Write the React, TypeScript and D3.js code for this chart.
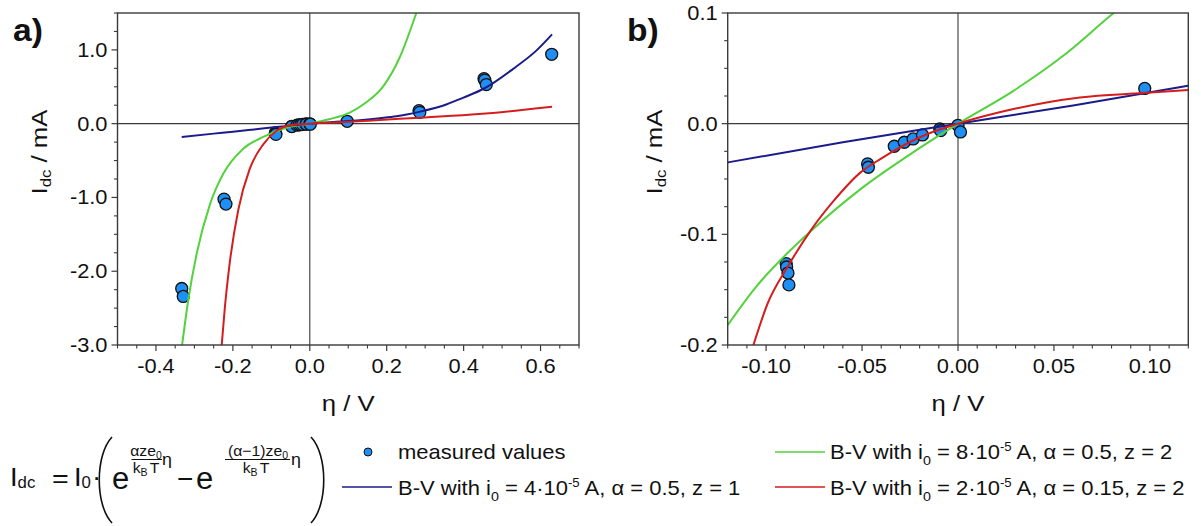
import React from "react";
import * as d3 from "d3";

const FONT = "'Liberation Sans', Arial, Helvetica, sans-serif";
const W = 1201;
const H = 526;

const NAVY = "#1b1b8c";
const GREEN = "#52d33c";
const RED = "#d41d1d";
const DOT = "#1e8ff5";
const AXIS = "#3a3a3a";
const INK = "#111111";

// ---------- measured values (eta in V, I_dc in mA) ----------
const measuredEta = [
  -0.333, -0.329, -0.223, -0.218, -0.0895, -0.0893, -0.0886, -0.0881, -0.0471, -0.0467,
  -0.0332, -0.028, -0.0234, -0.0185, -0.0095, -0.009, 0.0, 0.0013, 0.0973, 0.284, 0.286,
  0.453, 0.455, 0.459, 0.629,
];
const measuredI = [
  -2.234, -2.342, -1.023, -1.09, -0.1265, -0.1295, -0.135, -0.1457, -0.0363, -0.0394,
  -0.0204, -0.0168, -0.0138, -0.0102, -0.0048, -0.0063, -0.0015, -0.0075, 0.0318, 0.176, 0.153,
  0.61, 0.59, 0.53, 0.94,
];

// ---------- panel a curves ----------
const blueEtaA = [-0.333, -0.25, -0.2, -0.15, -0.1, -0.05, 0, 0.1, 0.182, 0.225, 0.284, 0.355, 0.398, 0.4545, 0.528, 0.589, 0.63];
const blueIA = [-0.18, -0.135, -0.11, -0.082, -0.053, -0.026, 0, 0.036, 0.075, 0.1, 0.16, 0.26, 0.35, 0.48, 0.74, 0.99, 1.21];

const greenEtaA = [-0.332, -0.316, -0.294, -0.26, -0.225, -0.173, -0.121, -0.069, 0, 0.05, 0.104, 0.147, 0.19, 0.234, 0.277];
const greenIA = [-3.0, -2.39, -1.76, -1.1, -0.68, -0.34, -0.18, -0.068, 0, 0.06, 0.15, 0.29, 0.5, 0.9, 1.5];

const redEtaA = [-0.229, -0.221, -0.208, -0.186, -0.156, -0.121, -0.087, -0.052, 0, 0.1, 0.182, 0.3, 0.44, 0.63];
const redIA = [-3.0, -2.5, -1.88, -1.17, -0.61, -0.28, -0.1, -0.022, 0, 0.025, 0.05, 0.085, 0.13, 0.23];

// ---------- panel b curves ----------
const blueEtaB = [-0.12, -0.06, 0, 0.06, 0.12];
const blueIB = [-0.035, -0.0168, 0, 0.0165, 0.0343];

const greenEtaB = [-0.12, -0.105, -0.0895, -0.0782, -0.0506, -0.0246, 0, 0.0289, 0.0548, 0.0803, 0.0815];
const greenIB = [-0.182, -0.147, -0.118, -0.0994, -0.0589, -0.0273, 0, 0.0297, 0.0613, 0.0988, 0.1005];

const redEtaB = [-0.1066, -0.0992, -0.0888, -0.0767, -0.0646, -0.0506, -0.0403, -0.0332, -0.0159, 0, 0.0289, 0.0635, 0.0964, 0.12];
const redIB = [-0.2, -0.1625, -0.1294, -0.0964, -0.0694, -0.0438, -0.0318, -0.0243, -0.0093, 0, 0.0132, 0.0237, 0.0277, 0.0304];

// ---------- axes ----------
const aXDomain = [-0.5, 0.7];
const aYDomain = [-3, 1.5];
const aXMajor = [-0.4, -0.2, 0, 0.2, 0.4, 0.6];
const aXLabels = ["-0.4", "-0.2", "0.0", "0.2", "0.4", "0.6"];
const aYMajor = [-3, -2, -1, 0, 1];
const aYLabels = ["-3.0", "-2.0", "-1.0", "0.0", "1.0"];

const bXDomain = [-0.12, 0.12];
const bYDomain = [-0.2, 0.1];
const bXMajor = [-0.1, -0.05, 0, 0.05, 0.1];
const bXLabels = ["-0.10", "-0.05", "0.00", "0.05", "0.10"];
const bYMajor = [-0.2, -0.1, 0, 0.1];
const bYLabels = ["-0.2", "-0.1", "0.0", "0.1"];

// ---------- legend ----------
const legendI0 = ["4", "8", "2"];
const legendAlpha = ["0.5", "0.5", "0.15"];
const legendZ = ["1", "2", "2"];

const SX = 1.12;

function Txt(props: any) {
  const { x, y, size, anchor = "start", sx = SX, weight = "normal", rot = 0, children } = props;
  return (
    <text
      transform={`translate(${x},${y})${rot ? ` rotate(${rot})` : ""} scale(${sx},1)`}
      fontSize={size}
      textAnchor={anchor}
      fontWeight={weight}
      fill={INK}
    >
      {children}
    </text>
  );
}

function zip(a: number[], b: number[]): [number, number][] {
  return a.map((v, i) => [v, b[i]] as [number, number]);
}

function Panel(props: any) {
  const { id, box, xDomain, yDomain, xMajor, xLabels, xStep, yMajor, yLabels, yStep, curves, tag, tagX, yTitleX } = props;
  const x = d3.scaleLinear().domain(xDomain).range([box.l, box.r]);
  const y = d3.scaleLinear().domain(yDomain).range([box.b, box.t]);
  const line = d3
    .line<[number, number]>()
    .x((d) => x(d[0]))
    .y((d) => y(d[1]))
    .curve(d3.curveMonotoneX);
  const nx = Math.round((xDomain[1] - xDomain[0]) / xStep);
  const ny = Math.round((yDomain[1] - yDomain[0]) / yStep);
  const xMinor = d3.range(nx + 1).map((i) => xDomain[0] + i * xStep).filter((v) => !xMajor.some((m: number) => Math.abs(m - v) < xStep / 10));
  const yMinor = d3.range(ny + 1).map((i) => yDomain[0] + i * yStep).filter((v) => !yMajor.some((m: number) => Math.abs(m - v) < yStep / 10));
  const pts = zip(measuredEta, measuredI).filter(
    (d) => d[0] >= xDomain[0] && d[0] <= xDomain[1] && d[1] >= yDomain[0] && d[1] <= yDomain[1]
  );
  const cx = (box.l + box.r) / 2;
  return (
    <g>
      <defs>
        <clipPath id={id}>
          <rect x={box.l} y={box.t} width={box.r - box.l} height={box.b - box.t} />
        </clipPath>
      </defs>
      {/* zero lines */}
      <line x1={box.l} x2={box.r} y1={y(0)} y2={y(0)} stroke={AXIS} strokeWidth={1.1} />
      <line x1={x(0)} x2={x(0)} y1={box.t} y2={box.b} stroke={AXIS} strokeWidth={1.1} />
      {/* markers */}
      <g clipPath={`url(#${id})`}>
        {pts.map((d, i) => (
          <circle key={i} cx={x(d[0])} cy={y(d[1])} r={6} fill={DOT} stroke={INK} strokeWidth={1.3} />
        ))}
        {curves.map((c: any, i: number) => (
          <path key={i} d={line(zip(c.eta, c.I)) || ""} fill="none" stroke={c.color} strokeWidth={2} />
        ))}
      </g>
      {/* frame */}
      <rect x={box.l} y={box.t} width={box.r - box.l} height={box.b - box.t} fill="none" stroke={AXIS} strokeWidth={1.4} />
      {/* x ticks */}
      {xMajor.map((v: number, i: number) => (
        <g key={"xm" + i}>
          <line x1={x(v)} x2={x(v)} y1={box.b} y2={box.b + 6} stroke={AXIS} strokeWidth={1.2} />
          <Txt x={x(v)} y={box.b + 28} size={19.5} anchor="middle">
            {xLabels[i]}
          </Txt>
        </g>
      ))}
      {xMinor.map((v: number, i: number) => (
        <line key={"xn" + i} x1={x(v)} x2={x(v)} y1={box.b} y2={box.b + 3.5} stroke={AXIS} strokeWidth={1.1} />
      ))}
      {/* y ticks */}
      {yMajor.map((v: number, i: number) => (
        <g key={"ym" + i}>
          <line x1={box.l - 6} x2={box.l} y1={y(v)} y2={y(v)} stroke={AXIS} strokeWidth={1.2} />
          <Txt x={box.l - 10} y={y(v) + 7} size={19.5} anchor="end">
            {yLabels[i]}
          </Txt>
        </g>
      ))}
      {yMinor.map((v: number, i: number) => (
        <line key={"yn" + i} x1={box.l - 3.5} x2={box.l} y1={y(v)} y2={y(v)} stroke={AXIS} strokeWidth={1.1} />
      ))}
      {/* axis titles */}
      <Txt x={cx} y={411} size={23} anchor="middle">
        η / V
      </Txt>
      <Txt x={yTitleX} y={152} size={23} anchor="middle" rot={-90}>
        I<tspan fontSize={15} dy={4}>dc</tspan>
        <tspan dy={-4}> / mA</tspan>
      </Txt>
      <Txt x={tagX} y={41} size={32} weight="bold" sx={1.05}>
        {tag}
      </Txt>
    </g>
  );
}

function LegendLabel(props: any) {
  const { x, y, k } = props;
  return (
    <Txt x={x} y={y} size={20} sx={1.1}>
      B-V with i<tspan fontSize={13} dy={6}>0</tspan>
      <tspan dy={-6}>{` = ${legendI0[k]}·10`}</tspan>
      <tspan fontSize={12} dy={-8}>-5</tspan>
      <tspan dy={8}>{` A, α = ${legendAlpha[k]}, z = ${legendZ[k]}`}</tspan>
    </Txt>
  );
}

export default function App() {
  const boxA = { l: 117.5, r: 579, t: 13, b: 345 };
  const boxB = { l: 727.7, r: 1188.3, t: 13, b: 345 };
  const curvesA = [
    { eta: greenEtaA, I: greenIA, color: GREEN },
    { eta: blueEtaA, I: blueIA, color: NAVY },
    { eta: redEtaA, I: redIA, color: RED },
  ];
  const curvesB = [
    { eta: blueEtaB, I: blueIB, color: NAVY },
    { eta: greenEtaB, I: greenIB, color: GREEN },
    { eta: redEtaB, I: redIB, color: RED },
  ];
  return (
    <svg
      width={W}
      height={H}
      viewBox={`0 0 ${W} ${H}`}
      style={{ position: "absolute", left: 0, top: 0, background: "#fff", fontFamily: FONT }}
    >
      <rect x={0} y={0} width={W} height={H} fill="#fff" />
      <Panel
        id="clipA"
        box={boxA}
        xDomain={aXDomain}
        yDomain={aYDomain}
        xMajor={aXMajor}
        xLabels={aXLabels}
        xStep={0.05}
        yMajor={aYMajor}
        yLabels={aYLabels}
        yStep={0.25}
        curves={curvesA}
        tag="a)"
        tagX={13}
        yTitleX={47}
      />
      <Panel
        id="clipB"
        box={boxB}
        xDomain={bXDomain}
        yDomain={bYDomain}
        xMajor={bXMajor}
        xLabels={bXLabels}
        xStep={0.01}
        yMajor={bYMajor}
        yLabels={bYLabels}
        yStep={0.025}
        curves={curvesB}
        tag="b)"
        tagX={627}
        yTitleX={662}
      />

      {/* formula */}
      <Txt x={10} y={486} size={26} sx={1.05}>
        I<tspan fontSize={16} dy={2}>dc</tspan>
      </Txt>
      <Txt x={52} y={487} size={26} sx={1.1}>=</Txt>
      <Txt x={74} y={486} size={26} sx={1.05}>
        I<tspan fontSize={16} dy={2}>0</tspan>
      </Txt>
      <Txt x={92} y={486} size={25}>·</Txt>
      <path d="M 112 437 C 95 455, 95 505, 112 523" fill="none" stroke={INK} strokeWidth={1.6} />
      <Txt x={112} y={489} size={31} sx={1.0}>e</Txt>
      <Txt x={146} y={456} size={15} anchor="middle" sx={1.05}>
        αze<tspan fontSize={10} dy={3}>0</tspan>
      </Txt>
      <line x1={131.5} x2={162} y1={459.5} y2={459.5} stroke={INK} strokeWidth={1} />
      <Txt x={146} y={473} size={15} anchor="middle" sx={1.05}>
        k<tspan fontSize={10} dy={3}>B</tspan>
        <tspan dy={-3} dx={2}>T</tspan>
      </Txt>
      <Txt x={162} y={465} size={17} sx={1.05}>η</Txt>
      <Txt x={177} y={488} size={28} sx={1.0}>−</Txt>
      <Txt x={196} y={489} size={31} sx={1.0}>e</Txt>
      <Txt x={258} y={456} size={15} anchor="middle" sx={1.05}>
        (α−1)ze<tspan fontSize={10} dy={3}>0</tspan>
      </Txt>
      <line x1={225} x2={290} y1={459.5} y2={459.5} stroke={INK} strokeWidth={1} />
      <Txt x={256} y={473} size={15} anchor="middle" sx={1.05}>
        k<tspan fontSize={10} dy={3}>B</tspan>
        <tspan dy={-3} dx={2}>T</tspan>
      </Txt>
      <Txt x={291} y={465} size={17} sx={1.05}>η</Txt>
      <path d="M 311 437 C 328 455, 328 505, 311 523" fill="none" stroke={INK} strokeWidth={1.6} />

      {/* legend */}
      <circle cx={368} cy={452} r={4} fill={DOT} stroke={INK} strokeWidth={1} />
      <Txt x={398} y={459} size={20} sx={1.1}>measured values</Txt>
      <line x1={342} x2={392} y1={487} y2={487} stroke={NAVY} strokeWidth={1.5} />
      <LegendLabel x={398} y={495} k={0} />
      <line x1={775} x2={825} y1={452} y2={452} stroke={GREEN} strokeWidth={1.5} />
      <LegendLabel x={830} y={459} k={1} />
      <line x1={775} x2={825} y1={487} y2={487} stroke={RED} strokeWidth={1.5} />
      <LegendLabel x={830} y={495} k={2} />
    </svg>
  );
}
